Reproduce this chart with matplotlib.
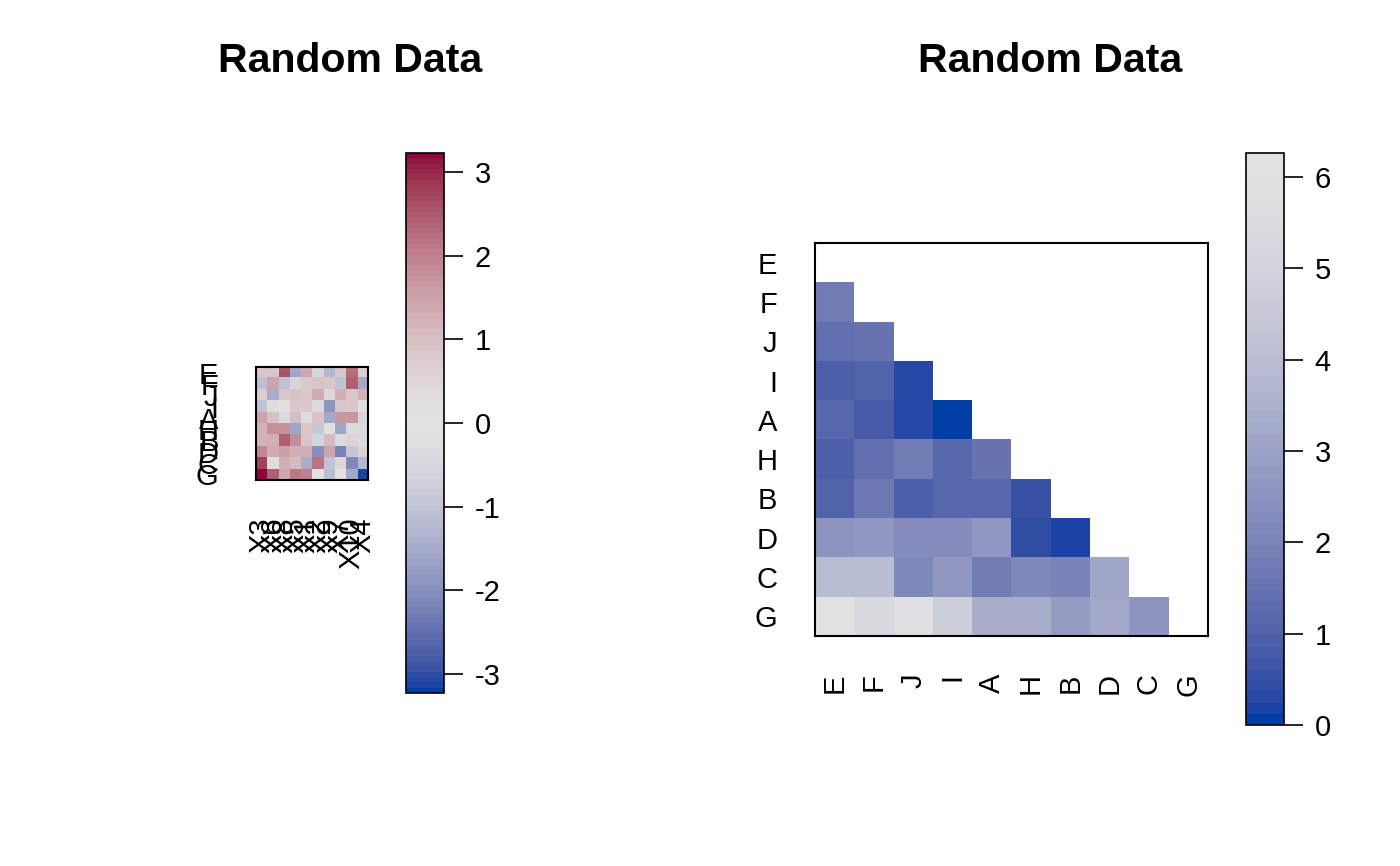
import numpy as np
import matplotlib
matplotlib.use("Agg")
import matplotlib.pyplot as plt
from matplotlib.colors import ListedColormap

plt.rcParams['font.family'] = ['Liberation Sans', 'DejaVu Sans']
plt.rcParams['axes.unicode_minus'] = False

# labels
row_labels = ['E', 'F', 'J', 'I', 'A', 'H', 'B', 'D', 'C', 'G']
col_labels_left = ['X3', 'X6', 'X8', 'X5', 'X1', 'X2', 'X9', 'X7', 'X10', 'X4']
col_labels_right = row_labels

# left heatmap: random values, rows top -> bottom
random_values = [
    [0.81, 0.80, 2.58, -1.58, 1.39, -0.53, -1.31, 0.80, 2.25, 0.73],
    [-1.10, 1.45, -1.04, -0.53, 0.77, 0.88, 0.80, -1.00, 2.42, -1.55],
    [0.70, -1.50, 0.80, 0.90, 0.80, 1.35, 0.44, 1.30, 0.85, 1.20],
    [-1.04, 0.30, 0.20, 0.80, 0.80, -0.36, -1.94, 0.88, 0.80, -0.20],
    [1.50, 0.95, -0.40, 1.00, 0.30, 0.88, -1.55, 1.68, 1.68, -0.53],
    [1.20, 1.80, 1.70, -1.58, 0.88, -0.88, -0.15, -1.62, -0.40, -0.40],
    [1.20, 1.30, 2.40, 1.80, 0.90, -0.55, 1.10, -0.35, 0.60, -0.40],
    [1.94, 1.35, 1.55, 1.25, 1.28, -2.00, 1.50, -2.17, -0.92, 0.55],
    [2.75, 0.35, 1.30, 1.10, -1.48, 2.20, -1.05, 0.50, -2.12, -1.30],
    [3.23, 2.40, 1.40, 2.08, 2.00, 0.00, -1.15, 0.05, -1.55, -3.15],
]

# right heatmap: distances, lower triangle (row i, columns 0..i-1)
dist_lower = [
    [],
    [1.77],
    [1.37, 1.53],
    [0.96, 0.99, 0.35],
    [1.18, 0.82, 0.33, 0.00],
    [0.87, 1.45, 1.77, 1.15, 1.58],
    [1.00, 1.70, 0.88, 1.13, 1.13, 0.61],
    [2.55, 2.68, 2.25, 2.33, 2.64, 0.45, 0.24],
    [4.01, 4.01, 2.12, 2.68, 1.76, 2.20, 2.08, 3.08],
    [6.26, 5.37, 5.80, 4.77, 3.41, 3.41, 2.77, 3.23, 2.46],
]


def hcl_to_rgb(h, c, l):
    # polar LUV -> sRGB (D65 white)
    xn, yn, zn = 95.047, 100.0, 108.883
    un = 4 * xn / (xn + 15 * yn + 3 * zn)
    vn = 9 * yn / (xn + 15 * yn + 3 * zn)
    u = c * np.cos(np.radians(h))
    v = c * np.sin(np.radians(h))
    y = yn * ((l + 16) / 116) ** 3 if l > 8 else yn * l / 903.3
    if l <= 0:
        return (0, 0, 0)
    up = u / (13 * l) + un
    vp = v / (13 * l) + vn
    x = 9 * y * up / (4 * vp)
    z = y * (12 - 3 * up - 20 * vp) / (4 * vp)
    xyz = np.array([x, y, z]) / 100
    m = np.array([[3.240479, -1.537150, -0.498535],
                  [-0.969256, 1.875992, 0.041556],
                  [0.055648, -0.204043, 1.057311]])
    lin = m @ xyz
    rgb = np.where(lin > 0.0031308, 1.055 * np.abs(lin) ** (1 / 2.4) - 0.055, 12.92 * lin)
    return tuple(np.clip(rgb, 0, 1))


def diverge_hcl(n, h=(260, 0), c=80, l=(30, 90), power=1.5):
    out = []
    for i in np.linspace(-1, 1, n):
        hh = h[0] if i < 0 else h[1]
        cc = c * abs(i) ** power
        ll = l[1] - (l[1] - l[0]) * abs(i) ** power
        out.append(hcl_to_rgb(hh, cc, ll))
    return out


pal = diverge_hcl(101)
cmap_div = ListedColormap(pal)
cmap_blue = ListedColormap(pal[:51])

fig = plt.figure(figsize=(14, 8.66), dpi=100)

lab_size = 21
tit_size = 29.5


def style_cbar(cb):
    cb.outline.set_linewidth(1.2)
    cb.ax.tick_params(length=14, width=1.2, labelsize=lab_size, pad=8)


# ---- left panel
A = np.array(random_values)
lim = np.abs(A).max()
ax1 = fig.add_axes([0.1829, 0.4457, 0.08, 0.1305])
im1 = ax1.imshow(A, cmap=cmap_div, vmin=-lim, vmax=lim, aspect='auto',
                 interpolation='nearest')
ax1.set_xticks(range(len(col_labels_left)))
ax1.set_xticklabels(col_labels_left, rotation=90, va='top')
ax1.set_yticks(range(len(row_labels)))
ax1.set_yticklabels(row_labels)
ax1.tick_params(length=0, labelsize=lab_size, pad=27)
for s in ax1.spines.values():
    s.set_linewidth(1.5)
fig.text(0.25, 0.93, 'Random Data', ha='center', va='center',
         fontsize=tit_size, fontweight='bold')
cax1 = fig.add_axes([0.29, 0.1998, 0.0271, 0.6236])
cb1 = fig.colorbar(im1, cax=cax1, ticks=[-3, -2, -1, 0, 1, 2, 3])
style_cbar(cb1)

# ---- right panel
n = len(row_labels)
D = np.full((n, n), np.nan)
for i, row in enumerate(dist_lower):
    for j, v in enumerate(row):
        D[i, j] = v
ax2 = fig.add_axes([0.5821, 0.2656, 0.2807, 0.4538])
im2 = ax2.imshow(D, cmap=cmap_blue, vmin=0, vmax=np.nanmax(D), aspect='auto',
                 interpolation='nearest')
ax2.set_xticks(range(n))
ax2.set_xticklabels(col_labels_right, rotation=90, va='top')
ax2.set_yticks(range(n))
ax2.set_yticklabels(row_labels)
ax2.tick_params(length=0, labelsize=lab_size, pad=27)
for s in ax2.spines.values():
    s.set_linewidth(1.5)
fig.text(0.75, 0.93, 'Random Data', ha='center', va='center',
         fontsize=tit_size, fontweight='bold')
cax2 = fig.add_axes([0.89, 0.1628, 0.0271, 0.6605])
cb2 = fig.colorbar(im2, cax=cax2, ticks=[0, 1, 2, 3, 4, 5, 6])
style_cbar(cb2)

fig.savefig('out.png', dpi=100)
